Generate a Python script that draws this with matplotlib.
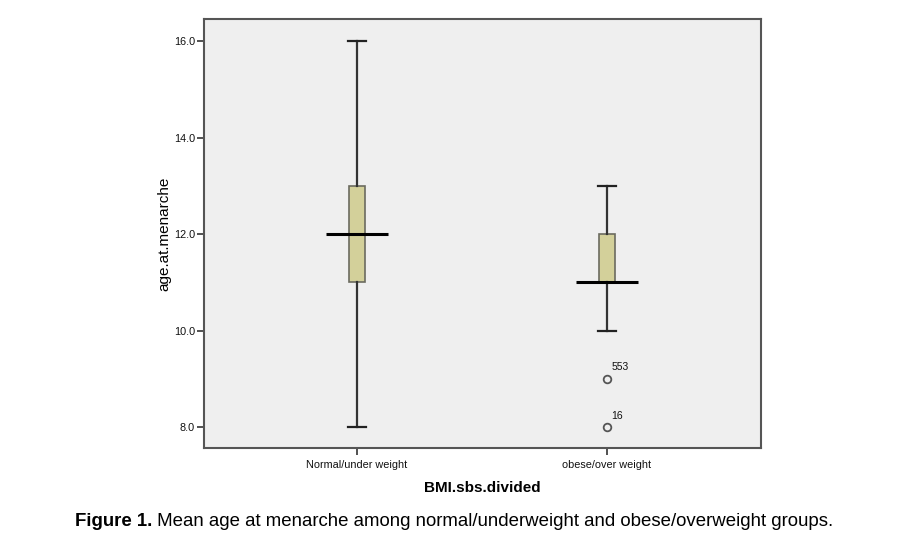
import matplotlib
matplotlib.use("Agg")
import matplotlib.pyplot as plt

# box summary per BMI group
groups = ["Normal/under weight", "obese/over weight"]
q1 = [11.0, 11.0]
q3 = [13.0, 12.0]
medians = [12.0, 11.0]
whisker_lo = [8.0, 10.0]
whisker_hi = [16.0, 13.0]
outlier_vals = [[], [9.0, 8.0]]
outlier_ids = [[], ["553", "16"]]

plt.rcParams['font.family'] = ['Liberation Sans', 'DejaVu Sans']

fig = plt.figure(figsize=(9.14, 5.48), dpi=100)
ax = fig.add_axes([204 / 914, 1 - 448 / 548, 557 / 914, 429 / 548])
ax.set_facecolor('#efefef')

stats = []
for i in range(len(groups)):
    stats.append({
        'med': medians[i], 'q1': q1[i], 'q3': q3[i],
        'whislo': whisker_lo[i], 'whishi': whisker_hi[i],
        'fliers': outlier_vals[i], 'label': groups[i],
    })

pos = [1, 2]
ax.bxp(stats, positions=pos, widths=0.066, patch_artist=True,
       capwidths=0.07,
       boxprops=dict(facecolor='#d3d09a', edgecolor='#6b6b60', linewidth=1.2),
       whiskerprops=dict(color='#333333', linewidth=1.6),
       capprops=dict(color='#222222', linewidth=1.6),
       medianprops=dict(linewidth=0),
       flierprops=dict(marker='o', markersize=5.5, markerfacecolor='none',
                       markeredgecolor='#555555', markeredgewidth=1.3))

# SPSS-style median line wider than the box
ax.hlines(medians, [p - 0.124 for p in pos], [p + 0.124 for p in pos],
          color='black', linewidth=2.2, zorder=5)

for i, p in enumerate(pos):
    for v, lab in zip(outlier_vals[i], outlier_ids[i]):
        ax.annotate(lab, (p, v), textcoords='offset points', xytext=(3, 6),
                    fontsize=7.5, color='#111111')

ax.set_xlim(0.388, 2.616)
ax.set_ylim(7.565, 16.456)
ax.set_yticks([8, 10, 12, 14, 16])
ax.set_yticklabels(['8.0', '10.0', '12.0', '14.0', '16.0'])
ax.set_xticks(pos)
ax.set_xticklabels(groups)
ax.tick_params(axis='both', labelsize=7.8, length=5, width=1.2,
               color='#333333', labelcolor='#111111')
ax.tick_params(axis='y', pad=1.5)
ax.tick_params(axis='x', pad=3.5)

for s in ax.spines.values():
    s.set_color('#555555')
    s.set_linewidth(1.5)

ax.set_ylabel('age.at.menarche', fontsize=11, labelpad=2)
ax.set_xlabel('BMI.sbs.divided', fontsize=11, fontweight='bold', labelpad=8)

t1 = fig.text(75 / 914, 1 - 521 / 548, 'Figure 1.', fontsize=13.4,
              fontweight='bold', va='center', ha='left')
ax.annotate(' Mean age at menarche among normal/underweight and obese/overweight groups.',
            xy=(1, 0), xycoords=t1, va='bottom', ha='left', fontsize=13.4,
            annotation_clip=False)

fig.savefig('out.png', dpi=100)
